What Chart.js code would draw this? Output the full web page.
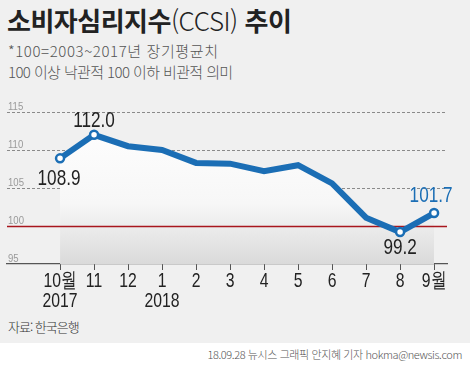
<!DOCTYPE html>
<html lang="ko">
<head>
<meta charset="UTF-8">
<title>소비자심리지수(CCSI) 추이</title>
<script src="https://cdn.jsdelivr.net/npm/chart.js"></script>
<style>
    html, body { margin: 0; padding: 0; }
    body {
        width: 470px; height: 366px; position: relative; overflow: hidden;
        background: #f0f0f0;
        font-family: "Noto Sans CJK KR", "Noto Sans", sans-serif;
    }
    .title { position: absolute; left: 7px; top: 1px; font-size: 26px; font-weight: 700; color: #222; letter-spacing: -0.5px; }
    .title .light { font-weight: 300; }
    .sub { position: absolute; left: 8px; font-size: 15px; color: #555; font-weight: 300; }
    .source { position: absolute; left: 8px; top: 317px; font-size: 13px; color: #333; font-weight: 300; letter-spacing: -1px; }
    .credit {
        position: absolute; left: 0; top: 343px; width: 470px; height: 23px; background: #fff;
        font-size: 11px; color: #555; text-align: right; line-height: 23px; font-weight: 300; letter-spacing: -0.4px;
    }
    .credit span { margin-right: 8px; }
    #wrap { position: absolute; left: 0; top: 0; width: 470px; height: 366px; }
</style>
</head>
<body>
<div class="title">소비자심리지수<span class="light">(CCSI)</span> 추이</div>
<div class="sub" style="top:40px; letter-spacing:0.6px">*100=2003~2017년 장기평균치</div>
<div class="sub" style="top:61px; letter-spacing:-0.6px">100 이상 낙관적 100 이하 비관적 의미</div>
<div class="source">자료: 한국은행</div>
<div class="credit"><span>18.09.28 뉴시스 그래픽 안지혜 기자 hokma@newsis.com</span></div>
<div id="wrap"><canvas id="chart"></canvas></div>
<script>
// 2017.10 ~ 2018.9 소비자심리지수
const months = ['10월', '11', '12', '1', '2', '3', '4', '5', '6', '7', '8', '9월'];
const years = ['2017', '', '', '2018', '', '', '', '', '', '', '', ''];
const ccsi = [108.9, 112.0, 110.5, 110.0, 108.3, 108.2, 107.2, 108.0, 105.6, 101.1, 99.2, 101.7];
const yTicks = [95, 100, 105, 110, 115];
const labelled = [0, 1, 10, 11]; // points with value labels

const BLUE = '#1b6eb5';
const FONT = '"Liberation Sans", Arial, sans-serif';

// condensed text, like the narrow face of the original graphic
function squeezed(ctx, txt, x, y, sx) {
    ctx.save();
    ctx.translate(x, y);
    ctx.scale(sx, 1);
    ctx.fillText(txt, 0, 0);
    ctx.restore();
}

const extras = {
    id: 'extras',
    beforeDatasetsDraw(chart) {
        const { ctx, chartArea, scales } = chart;
        ctx.save();
        // y tick labels sit just above their grid line
        ctx.fillStyle = '#999';
        ctx.font = '11px ' + FONT;
        ctx.textAlign = 'left';
        ctx.textBaseline = 'alphabetic';
        yTicks.forEach(v => squeezed(ctx, String(v), chartArea.left + 1, scales.y.getPixelForValue(v) - 2, 0.87));

        // x tick labels, month and year
        ctx.fillStyle = '#222';
        ctx.font = '21px ' + FONT;
        ctx.textAlign = 'center';
        months.forEach((m, i) => {
            const x = scales.x.getPixelForValue(i);
            squeezed(ctx, m, x, chartArea.bottom + 23, 0.75);
            if (years[i]) squeezed(ctx, years[i], x, chartArea.bottom + 43, 0.75);
        });
        ctx.restore();
    },
    // runs after the filler, so the 100 line shows over the area
    beforeDatasetDraw(chart) {
        const { ctx, chartArea, scales } = chart;
        const y = Math.round(scales.y.getPixelForValue(100)) + 0.5;
        ctx.save();
        ctx.strokeStyle = '#a8161d';
        ctx.lineWidth = 1.3;
        ctx.beginPath();
        ctx.moveTo(chartArea.left, y);
        ctx.lineTo(chartArea.right, y);
        ctx.stroke();
        ctx.restore();
    },
    afterDatasetsDraw(chart) {
        const { ctx } = chart;
        const meta = chart.getDatasetMeta(0);
        ctx.save();
        ctx.font = '22px ' + FONT;
        ctx.textAlign = 'center';
        ctx.textBaseline = 'alphabetic';
        labelled.forEach(i => {
            const p = meta.data[i];
            const txt = ccsi[i].toFixed(1);
            ctx.fillStyle = i === 11 ? BLUE : '#222';
            if (i === 0) squeezed(ctx, txt, p.x - 1, p.y + 27, 0.78);
            else if (i === 1) squeezed(ctx, txt, p.x, p.y - 8, 0.78);
            else if (i === 10) squeezed(ctx, txt, p.x, p.y + 22, 0.78);
            else squeezed(ctx, txt, p.x - 3, p.y - 11, 0.78);
        });
        ctx.restore();
    }
};

const ctx = document.getElementById('chart').getContext('2d');
const grad = ctx.createLinearGradient(0, 112, 0, 264);
grad.addColorStop(0, '#ffffff');
grad.addColorStop(0.6, '#f7f7f7');
grad.addColorStop(1, '#dadada');

new Chart(ctx, {
    type: 'line',
    data: {
        datasets: [{
            data: ccsi.map((v, i) => ({ x: i, y: v })),
            borderColor: BLUE,
            borderWidth: 6,
            backgroundColor: grad,
            fill: 'start',
            tension: 0,
            pointRadius: ccsi.map((v, i) => labelled.includes(i) ? 4 : 0),
            pointBackgroundColor: '#fff',
            pointBorderColor: BLUE,
            pointBorderWidth: 2.5
        }]
    },
    options: {
        responsive: true,
        maintainAspectRatio: false,
        animation: false,
        layout: { padding: { left: 7, right: 23, top: 112, bottom: 0 } },
        plugins: { legend: { display: false }, tooltip: { enabled: false } },
        scales: {
            x: {
                type: 'linear',
                min: -1.56,
                max: 11.38,
                afterBuildTicks: s => { s.ticks = months.map((m, i) => ({ value: i })); },
                afterFit: s => { s.height = 102; },
                grid: { drawOnChartArea: false, color: '#555', tickLength: 6 },
                border: { color: '#555', width: 1.2 },
                ticks: { display: false }
            },
            y: {
                min: 95,
                max: 115,
                afterBuildTicks: s => { s.ticks = yTicks.map(v => ({ value: v })); },
                afterFit: s => { s.width = 0; },
                grid: {
                    drawTicks: false,
                    color: c => (c.tick.value === 100 || c.tick.value === 95) ? 'rgba(0,0,0,0)' : '#8a8a8a',
                    lineWidth: 1
                },
                border: { display: false, dash: [3, 2] },
                ticks: { display: false }
            }
        }
    },
    plugins: [extras]
});
</script>
</body>
</html>
